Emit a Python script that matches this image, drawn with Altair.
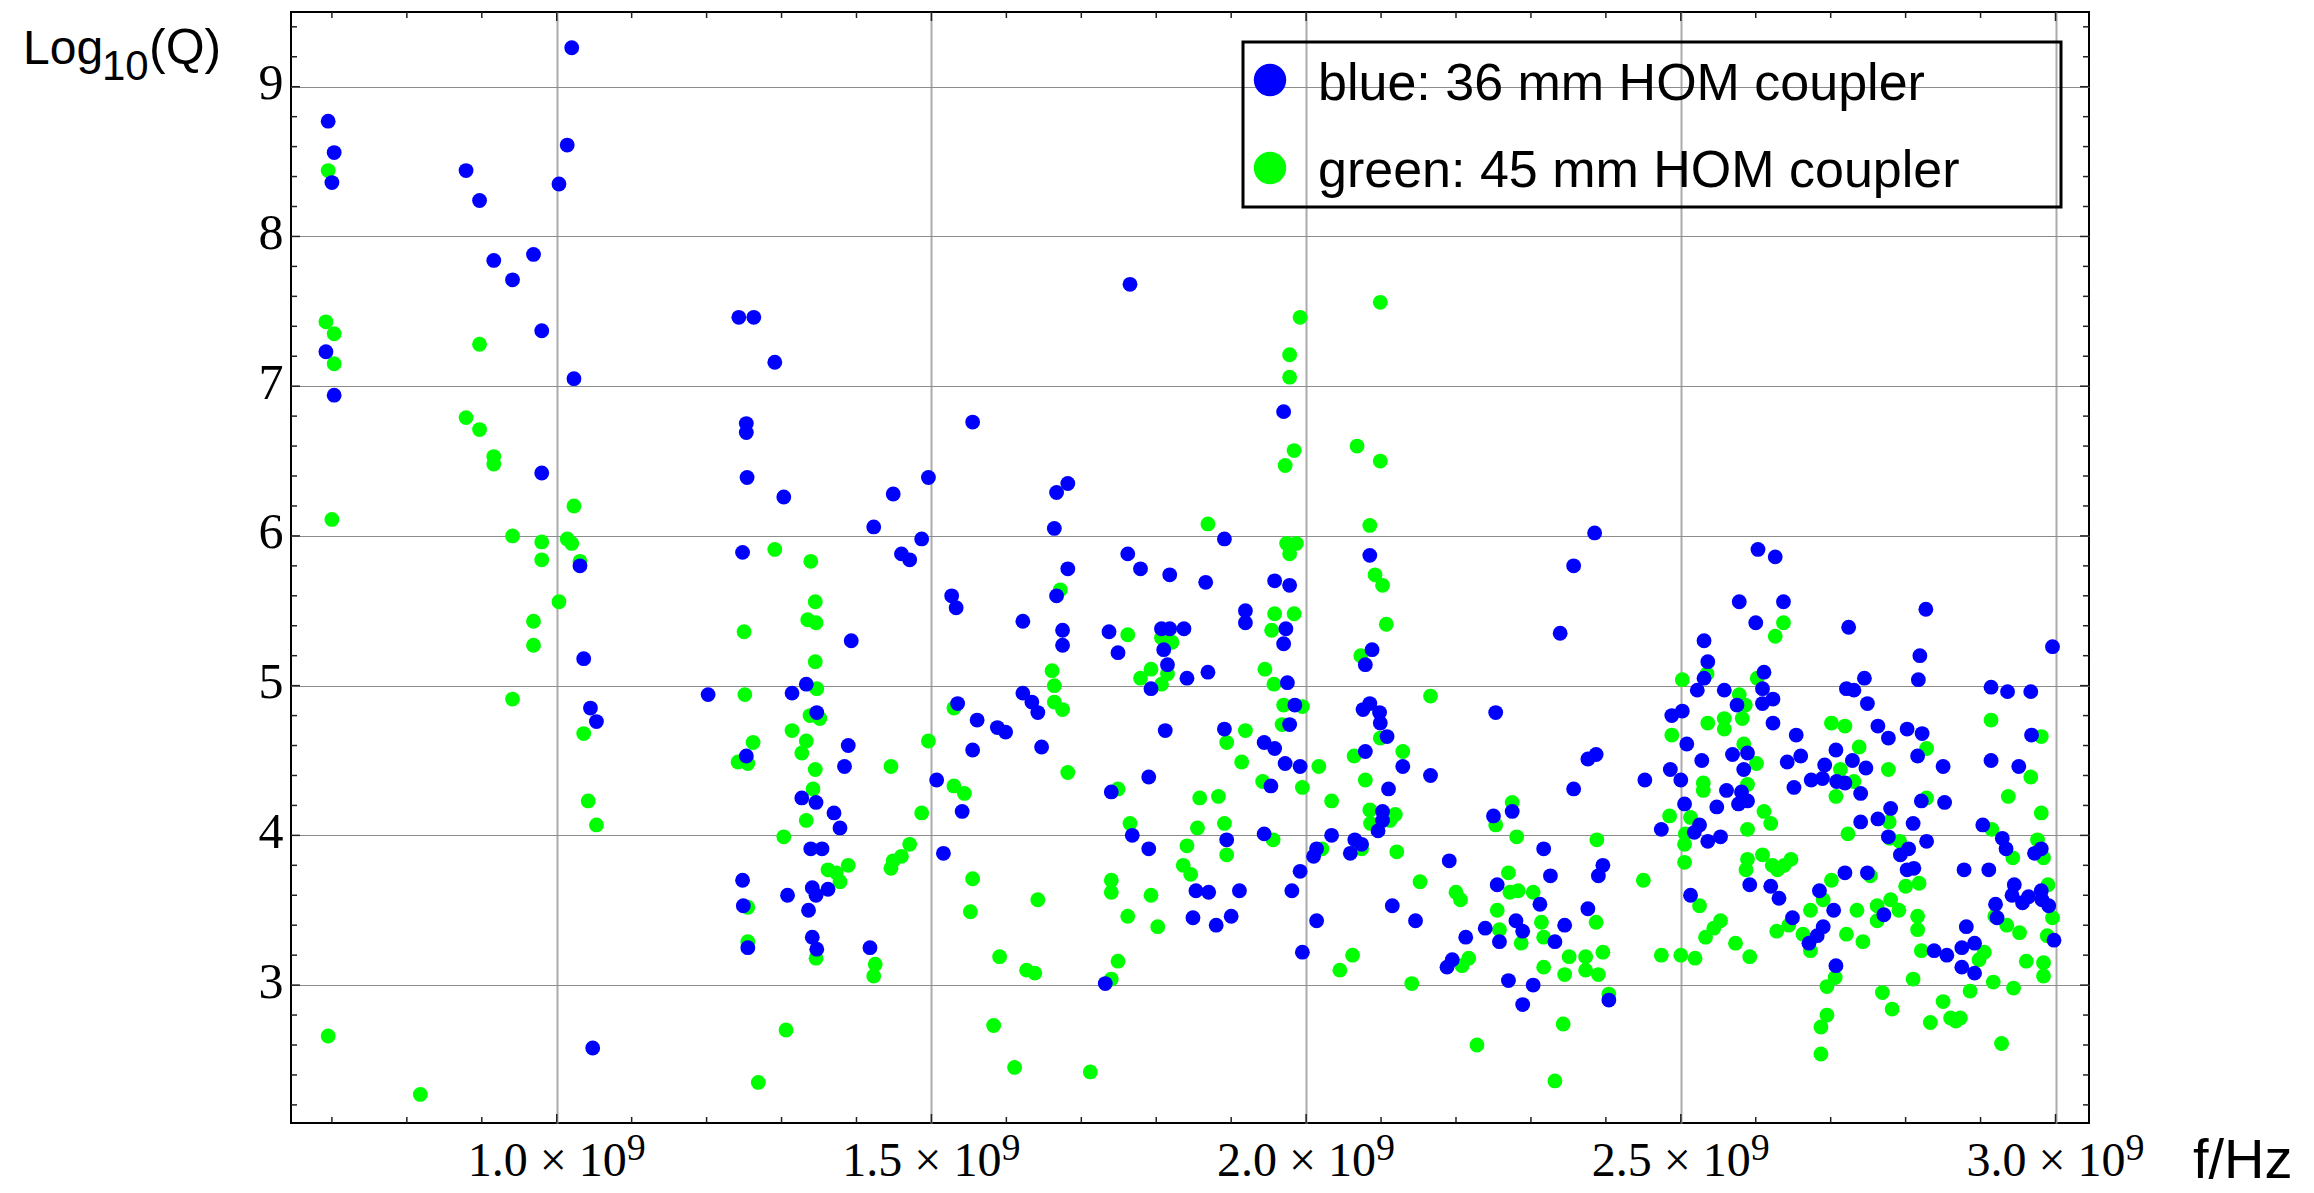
import altair as alt
import pandas as pd

# Mode frequencies (GHz) and log10 of the quality factor for the two coupler designs
blue_f = [
    1.020, 0.695, 0.703, 0.700, 1.014, 0.879, 0.897, 1.003, 0.916, 0.969, 0.941, 0.980,
    0.692, 0.703, 1.023, 1.243, 1.263, 0.980, 1.253, 1.253, 1.254, 1.031, 1.248, 1.036,
    1.202, 1.045, 1.053, 1.253, 1.248, 1.249, 1.255, 1.048,
    1.291, 1.303, 1.423, 1.449, 1.496, 1.460, 1.471, 1.487, 1.555, 1.393, 1.314, 1.333,
    1.347, 1.389, 1.384, 1.327, 1.346, 1.370, 1.378, 1.339, 1.354, 1.308, 1.341, 1.346,
    1.362, 1.336, 1.341, 1.347, 1.418, 1.527, 1.533, 1.535, 1.622, 1.667, 1.682, 1.664,
    1.682, 1.667, 1.675, 1.675, 1.622, 1.634, 1.642, 1.561, 1.588, 1.599, 1.555, 1.647,
    1.507, 1.541, 1.516, 1.765, 1.762, 1.779, 1.818, 1.737, 1.749, 1.807, 1.818, 1.837,
    1.810, 1.815, 1.793, 1.841, 1.812, 1.790, 1.740, 1.768, 1.790, 1.853, 1.849, 1.732,
    1.866, 1.869, 1.891, 1.919, 1.919, 1.891, 1.894, 1.880, 1.900, 1.870, 1.911,
    1.970, 1.958, 1.978, 1.973, 1.970, 1.975, 1.985, 1.978, 1.944, 1.958, 1.953, 1.972,
    1.992, 1.944, 1.981, 1.992, 2.010, 2.014, 1.995, 2.014, 2.034, 2.085, 2.088, 2.079,
    2.085, 2.076, 2.098, 2.099, 2.108, 2.079, 2.129, 2.110, 2.102, 2.102, 2.096, 2.065,
    2.074, 2.059, 2.166, 2.115, 2.146, 2.191, 2.188, 2.195, 2.213, 2.239, 2.253, 2.250,
    2.275, 2.255, 2.258, 2.280, 2.289, 2.270, 2.289, 2.303, 2.312, 2.317, 2.326, 2.332,
    2.345, 2.339, 2.357, 2.385, 2.357, 2.376, 2.387, 2.376, 2.396, 2.390, 2.404, 2.452,
    2.603, 2.626, 2.578, 2.637, 2.600, 2.531, 2.536, 2.531, 2.522, 2.558, 2.611, 2.609,
    2.609, 2.623, 2.575, 2.502, 2.488, 2.623, 2.508, 2.654, 2.528, 2.569, 2.589, 2.584,
    2.642, 2.660, 2.486, 2.500, 2.561, 2.581, 2.589, 2.577, 2.548, 2.651, 2.505, 2.474,
    2.525, 2.518, 2.536, 2.553, 2.513, 2.592, 2.620, 2.631, 2.649, 2.674, 2.689, 2.692,
    2.707, 2.708, 2.719, 2.729, 2.747, 2.740, 2.740, 2.724, 2.721, 2.731, 2.745, 2.749,
    2.719, 2.749, 2.685, 2.704, 2.690, 2.682, 2.671, 2.707,
    2.827, 2.819, 2.817, 2.763, 2.777, 2.802, 2.822, 2.816, 2.850, 2.821, 2.852, 2.780,
    2.763, 2.810, 2.777, 2.828, 2.804, 2.793, 2.811, 2.802, 2.771, 2.878, 2.911, 2.881,
    2.838, 2.855, 2.875, 2.892, 2.875, 2.892, 2.903, 2.914, 2.936, 2.967, 2.968, 2.914,
    2.951, 2.929, 2.934, 2.972, 2.981, 2.945, 2.942, 2.956, 2.964, 2.981, 2.982, 2.991,
    2.920, 2.922, 2.998, 2.996,
]
blue_q = [
    9.26, 8.77, 8.56, 8.36, 8.61, 8.44, 8.24, 8.35, 7.84, 7.88, 7.71, 7.37,
    7.23, 6.94, 7.05, 7.46, 7.46, 6.42, 6.75, 6.69, 6.39, 5.80, 5.89, 5.18,
    4.94, 4.85, 4.76, 4.53, 3.70, 3.53, 3.25, 2.58,
    7.16, 6.26, 6.06, 6.28, 6.39, 5.88, 5.84, 5.98, 6.76, 5.30, 4.95, 5.01,
    4.82, 4.60, 4.46, 4.25, 4.22, 4.15, 4.05, 3.91, 3.91, 3.60, 3.65, 3.60,
    3.64, 3.50, 3.32, 3.24, 3.25, 5.60, 5.52, 4.88, 5.43, 6.29, 6.35, 6.05,
    5.78, 5.60, 5.37, 5.27, 4.95, 4.89, 4.82, 4.77, 4.72, 4.69, 4.57, 4.59,
    4.37, 4.16, 3.88, 7.68, 5.88, 5.78, 5.74, 5.36, 5.22, 5.38, 5.38, 5.38,
    5.24, 5.14, 4.98, 5.05, 4.70, 4.39, 4.29, 4.00, 3.91, 3.63, 3.45, 3.01,
    5.69, 5.09, 5.98, 5.50, 5.42, 4.71, 3.97, 3.40, 3.46, 3.62, 3.63,
    6.83, 5.70, 5.67, 5.38, 5.28, 5.02, 4.87, 4.74, 4.62, 4.58, 4.33, 4.48,
    4.46, 4.01, 3.63, 3.76, 3.86, 3.91, 3.22, 3.43, 4.00, 5.87, 5.24, 5.14,
    4.88, 4.84, 4.82, 4.75, 4.66, 4.56, 4.46, 4.31, 4.16, 4.10, 4.03, 3.97,
    3.94, 3.88, 4.40, 3.53, 3.43, 3.83, 3.12, 3.17, 3.32, 3.38, 4.82, 4.13,
    4.16, 3.67, 3.29, 3.43, 3.36, 3.03, 2.87, 3.00, 3.54, 3.91, 3.73, 3.29,
    3.40, 5.35, 5.80, 6.02, 4.31, 4.51, 4.54, 3.51, 3.80, 3.73, 2.90, 4.37,
    5.91, 5.86, 5.56, 5.56, 5.42, 5.30, 5.16, 5.05, 4.97, 4.97, 5.09, 4.98,
    4.88, 4.91, 4.87, 4.83, 4.80, 4.75, 4.61, 4.67, 4.50, 4.54, 4.55, 4.44,
    4.49, 4.53, 4.44, 4.37, 4.30, 4.29, 4.23, 4.21, 4.19, 4.32, 4.21, 4.04,
    4.07, 4.02, 3.96, 3.99, 3.60, 3.67, 3.66, 3.58, 3.45, 4.37, 4.38, 4.47,
    4.57, 4.36, 4.35, 4.50, 4.45, 4.28, 4.09, 5.39, 4.98, 4.97, 5.05, 4.88,
    3.75, 3.75, 3.63, 3.50, 3.39, 3.33, 3.28, 3.13,
    5.51, 5.20, 5.04, 4.73, 4.65, 4.71, 4.68, 4.53, 4.46, 4.23, 4.22, 4.18,
    4.11, 4.08, 3.99, 3.96, 3.91, 3.87, 3.78, 3.77, 3.47, 3.77, 3.77, 3.39,
    3.23, 3.20, 3.25, 3.28, 3.12, 3.08, 4.07, 4.99, 4.96, 4.96, 4.67, 4.50,
    4.46, 3.98, 3.91, 3.88, 3.91, 3.67, 3.60, 3.55, 3.59, 3.63, 3.57, 3.53,
    3.54, 3.45, 3.30, 5.26,
]

green_f = [
    0.695, 0.692, 0.703, 0.703, 0.897, 0.700, 0.879, 0.897, 0.916, 0.916, 1.023, 0.941,
    0.980, 0.980, 1.014, 1.020, 1.031, 1.003, 0.969, 0.969, 0.941, 1.036, 1.042, 1.053,
    1.250, 1.251, 1.262, 1.242, 1.255, 1.255, 1.255, 0.695, 0.818, 1.269,
    1.291, 1.339, 1.345, 1.335, 1.346, 1.345, 1.347, 1.338, 1.351, 1.314, 1.333, 1.327,
    1.345, 1.342, 1.333, 1.303, 1.362, 1.378, 1.389, 1.373, 1.346, 1.425, 1.423, 1.306,
    1.446, 1.496, 1.487, 1.471, 1.460, 1.449, 1.446, 1.530, 1.530, 1.544, 1.555, 1.552,
    1.591, 1.583, 1.611, 1.627, 1.638, 1.642, 1.672, 1.661, 1.664, 1.664, 1.675, 1.682,
    1.712, 1.740, 1.749, 1.740, 1.740, 1.762, 1.749, 1.765, 1.762, 1.793, 1.802, 1.779,
    1.793, 1.807, 1.821, 1.807, 1.815, 1.841, 1.858, 1.855, 1.836, 1.846,
    1.869, 1.883, 1.891, 1.894, 1.894, 1.914, 1.919, 1.945, 1.958, 1.954, 1.957, 1.970,
    1.968, 1.995, 1.942, 1.956, 1.992, 1.978, 1.978, 1.984, 1.972, 1.974, 1.987, 1.978,
    1.984, 1.995, 2.017, 2.034, 2.021, 2.045, 2.062, 2.099, 2.068, 2.099, 2.085, 2.092,
    2.102, 2.107, 2.073, 2.064, 2.079, 2.085, 2.086, 2.112, 2.119, 2.099, 2.129, 2.074,
    2.121, 2.166, 2.152, 2.141, 2.200, 2.206, 2.208, 2.217, 2.228, 2.253, 2.275, 2.281,
    2.270, 2.272, 2.283, 2.255, 2.258, 2.287, 2.303, 2.314, 2.317, 2.317, 2.345, 2.351,
    2.343, 2.332, 2.373, 2.373, 2.387, 2.388, 2.396, 2.390, 2.404, 2.450,
    2.502, 2.488, 2.535, 2.536, 2.558, 2.558, 2.578, 2.586, 2.582, 2.602, 2.637, 2.626,
    2.584, 2.601, 2.530, 2.530, 2.589, 2.485, 2.513, 2.506, 2.505, 2.505, 2.589, 2.611,
    2.620, 2.525, 2.553, 2.544, 2.533, 2.474, 2.500, 2.519, 2.573, 2.592, 2.589, 2.587,
    2.609, 2.622, 2.629, 2.638, 2.647, 2.628, 2.644, 2.673, 2.663, 2.673, 2.690, 2.701,
    2.701, 2.719, 2.738, 2.713, 2.731, 2.707, 2.723, 2.735, 2.721, 2.743, 2.706, 2.695,
    2.695, 2.687, 2.687,
    2.777, 2.778, 2.779, 2.792, 2.753, 2.762, 2.762, 2.780, 2.791, 2.800, 2.818, 2.816,
    2.816, 2.821, 2.828, 2.828, 2.810, 2.769, 2.782, 2.833, 2.850, 2.860, 2.867, 2.873,
    2.886, 2.898, 2.905, 2.917, 2.928, 2.914, 2.915, 2.937, 2.943, 2.919, 2.935, 2.952,
    2.944, 2.961, 2.967, 2.981, 2.981, 2.976, 2.984, 2.990, 2.996, 2.989, 2.984, 2.984,
]
green_q = [
    8.44, 7.43, 7.35, 7.15, 7.28, 6.11, 6.79, 6.71, 6.53, 6.48, 6.20, 6.00,
    5.96, 5.84, 5.98, 5.95, 5.83, 5.56, 5.43, 5.27, 4.91, 4.68, 4.23, 4.07,
    5.36, 4.94, 4.62, 4.49, 4.48, 3.52, 3.29, 2.66, 2.27, 2.35,
    5.91, 5.83, 5.56, 5.44, 5.42, 5.16, 4.98, 4.80, 4.78, 4.70, 4.63, 4.55,
    4.44, 4.31, 4.10, 3.99, 3.77, 3.69, 3.80, 3.75, 3.18, 3.14, 3.06, 2.70,
    4.46, 4.63, 4.15, 3.94, 3.86, 3.83, 3.78, 4.85, 4.33, 4.28, 3.71, 3.49,
    3.19, 2.73, 2.45, 3.10, 3.08, 3.57, 5.64, 5.10, 5.00, 4.89, 4.84, 4.42,
    2.42, 3.04, 3.16, 3.70, 3.62, 3.46, 4.31, 4.08, 5.34, 3.60, 3.39, 5.05,
    5.11, 5.32, 5.29, 5.01, 5.08, 3.93, 4.25, 4.05, 3.80, 3.74,
    6.08, 4.26, 4.08, 3.87, 4.62, 4.49, 4.70, 5.11, 5.48, 5.37, 5.01, 4.87,
    4.74, 4.86, 4.36, 3.97, 7.46, 7.21, 7.06, 6.57, 6.47, 5.95, 5.95, 5.88,
    5.48, 4.32, 4.46, 4.23, 3.91, 3.10, 3.20, 7.56, 6.60, 6.50, 6.07, 5.74,
    5.67, 5.41, 5.20, 4.53, 4.37, 4.17, 4.08, 4.10, 4.14, 4.65, 4.56, 3.91,
    3.89, 4.93, 3.69, 3.01, 3.62, 3.57, 3.13, 3.18, 2.60, 4.07, 4.22, 3.99,
    3.75, 3.62, 3.63, 3.50, 3.37, 3.28, 3.62, 3.42, 3.32, 3.12, 3.07, 3.19,
    2.74, 2.36, 3.19, 3.10, 3.42, 3.97, 3.22, 3.07, 2.94, 3.70,
    5.04, 4.67, 5.08, 4.75, 4.78, 4.71, 4.94, 4.87, 4.78, 5.05, 5.42, 5.33,
    4.61, 4.48, 4.35, 4.30, 4.34, 4.13, 4.12, 4.01, 3.94, 3.82, 4.04, 4.16,
    4.08, 3.53, 3.43, 3.38, 3.32, 3.20, 3.20, 3.18, 3.28, 3.19, 3.84, 3.77,
    3.87, 3.80, 3.77, 3.80, 3.84, 3.36, 3.40, 3.50, 3.34, 3.23, 3.57, 3.70,
    4.75, 4.73, 4.59, 4.44, 4.36, 4.26, 4.01, 3.50, 3.34, 3.29, 3.05, 2.99,
    2.80, 2.72, 2.54,
    4.44, 4.09, 3.98, 3.96, 3.73, 3.53, 3.43, 3.57, 3.50, 3.66, 3.68, 3.46,
    3.37, 3.23, 4.58, 4.25, 3.04, 2.95, 2.84, 2.75, 2.89, 2.78, 2.76, 2.78,
    2.96, 3.17, 3.22, 3.02, 2.61, 4.77, 4.04, 4.26, 3.85, 3.46, 3.40, 3.35,
    2.98, 3.16, 4.39, 4.66, 4.15, 3.97, 3.85, 3.67, 3.45, 3.33, 3.15, 3.06,
]

legend_labels = ["blue: 36 mm HOM coupler", "green: 45 mm HOM coupler"]
series_colors = ["#0000ff", "#00ff00"]

# Axis ticks and labels
x_grid = [1.0, 1.5, 2.0, 2.5, 3.0]                    # GHz
x_tick_text = ["1.0 × 10", "1.5 × 10", "2.0 × 10", "2.5 × 10", "3.0 × 10"]
x_exponent = "9"
y_grid = [3, 4, 5, 6, 7, 8, 9]
x_minor = [round(0.7 + 0.1 * i, 1) for i in range(24)]
x_minor = [v for v in x_minor if v not in x_grid]
y_minor = [round(2.2 + 0.2 * i, 1) for i in range(37)]
y_minor = [v for v in y_minor if abs(v - round(v)) > 1e-9]

W, H = 1798, 1111
SERIF = "Liberation Serif, Times New Roman, serif"
SANS = "Liberation Sans, Arial, sans-serif"

xs = alt.Scale(domain=[0.6454e9, 3.0447e9], nice=False, zero=False)
ys = alt.Scale(domain=[2.079, 9.499], nice=False, zero=False)

x_axis = alt.Axis(values=[v * 1e9 for v in x_grid], labels=False, ticks=False,
                  domain=False, grid=True, gridColor="#ababab", gridWidth=2, title=None)
y_axis = alt.Axis(values=y_grid, format="d", labelFont=SERIF, labelFontSize=50,
                  labelColor="black", labelPadding=8, labelOffset=-3, ticks=False,
                  domain=False, grid=True, gridColor="#8c8c8c", gridWidth=1, title=None)


def X(field):
    return alt.X(field, type="quantitative", scale=xs, axis=x_axis)


def Y(field):
    return alt.Y(field, type="quantitative", scale=ys, axis=y_axis)


blue_df = pd.DataFrame({"f": [v * 1e9 for v in blue_f], "logq": blue_q})
green_df = pd.DataFrame({"f": [v * 1e9 for v in green_f], "logq": green_q})

green_pts = alt.Chart(green_df).mark_circle(size=220, opacity=1, color=series_colors[1]).encode(
    x=X("f"), y=Y("logq"))
blue_pts = alt.Chart(blue_df).mark_circle(size=220, opacity=1, color=series_colors[0]).encode(
    x=X("f"), y=Y("logq"))


def x_tick_rules(vals, length):
    base = alt.Chart(pd.DataFrame({"f": [v * 1e9 for v in vals]})).mark_rule(
        color="#222222", strokeWidth=1.5)
    return [
        base.encode(x=X("f"), y=alt.value(H), y2=alt.value(H - length)),
        base.encode(x=X("f"), y=alt.value(0), y2=alt.value(length)),
    ]


def y_tick_rules(vals, length):
    base = alt.Chart(pd.DataFrame({"logq": vals})).mark_rule(color="#222222", strokeWidth=1.5)
    return [
        base.encode(y=Y("logq"), x=alt.value(0), x2=alt.value(length)),
        base.encode(y=Y("logq"), x=alt.value(W), x2=alt.value(W - length)),
    ]


tick_layers = (x_tick_rules(x_minor, 6) + x_tick_rules(x_grid, 9)
               + y_tick_rules(y_minor, 6) + y_tick_rules(y_grid, 9))

# Bottom tick labels "n.n × 10" with a raised exponent
xlab_df = pd.DataFrame({"f": [v * 1e9 for v in x_grid], "lab": x_tick_text})
xlab_base = alt.Chart(xlab_df).mark_text(
    font=SERIF, fontSize=48, align="right", baseline="alphabetic", dx=70, color="black"
).encode(x=X("f"), y=alt.value(H + 53), text="lab:N")
xlab_exp = alt.Chart(xlab_df).mark_text(
    font=SERIF, fontSize=38, align="left", baseline="alphabetic", dx=70, color="black"
).encode(x=X("f"), y=alt.value(H + 37), text=alt.value(x_exponent))

one = pd.DataFrame({"k": [0]})


def label(text, x, y, size, align="left"):
    return alt.Chart(one).mark_text(
        font=SANS, fontSize=size, align=align, baseline="alphabetic", color="black"
    ).encode(x=alt.value(x), y=alt.value(y), text=alt.value(text))


# Axis titles: Log10(Q) with subscript, and f/Hz
titles = [
    label("Log", -268, 52, 48),
    label("10", -189, 68, 42),
    label("(Q)", -142, 52, 50),
    label("f/Hz", 1902, 1166, 56),
]

# Legend box with the two series
legend_box = alt.Chart(one).mark_rect(
    fillOpacity=0, stroke="black", strokeWidth=3
).encode(x=alt.value(952), x2=alt.value(1770), y=alt.value(30), y2=alt.value(195))
legend_layers = [legend_box]
for lab, col, cy, base_y in zip(legend_labels, series_colors, [68, 156], [88, 175]):
    legend_layers.append(
        alt.Chart(one).mark_circle(size=1050, opacity=1, color=col).encode(
            x=alt.value(979), y=alt.value(cy))
    )
    legend_layers.append(label(lab, 1027, base_y, 52))

chart = alt.layer(
    green_pts, blue_pts, *tick_layers, xlab_base, xlab_exp, *titles, *legend_layers
).properties(
    width=W, height=H,
    padding={"left": 291, "top": 12, "right": 225, "bottom": 70},
    autosize=alt.AutoSizeParams(type="none"),
    background="white",
).configure_view(stroke="black", strokeWidth=2)

chart.save("out.html", embed_options={"renderer": "svg", "actions": False})
